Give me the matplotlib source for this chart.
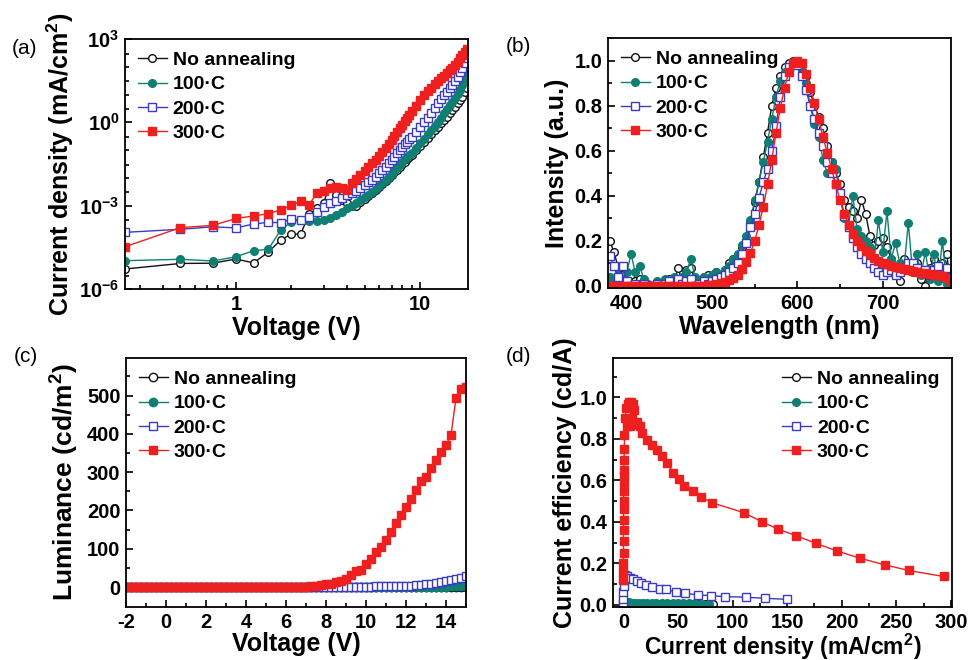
import numpy as np
import matplotlib
matplotlib.use("Agg")
import matplotlib.pyplot as plt
from matplotlib.ticker import MultipleLocator, LogLocator, FixedLocator, NullFormatter

plt.rcParams['font.family'] = ['Liberation Sans', 'DejaVu Sans']
plt.rcParams['font.weight'] = 'bold'
plt.rcParams['axes.labelweight'] = 'bold'
plt.rcParams['mathtext.default'] = 'regular'
plt.rcParams['axes.unicode_minus'] = False

LABELS = ['No annealing', '100\u00b7C', '200\u00b7C', '300\u00b7C']
COLORS = ['#111111', '#0e7f72', '#3a3ac4', '#ee1f1f']
MARKERS = ['o', 'o', 's', 's']
FACES = ['white', '#0e7f72', 'white', '#ee1f1f']

# (a) J-V, log10 of current density (mA/cm2)
volt_iv = np.concatenate([np.arange(0.25, 9.01, 0.25), np.arange(9.5, 18.01, 0.5)])
logj_none = [-5.28, -5.08, -5.07, -4.92, -5.06, -4.67, -4.24, -4.02, -4.02, -3.3, -3.1, -2.9,
             -2.2, -2.6, -2.8, -2.92, -3.0, -3.01, -2.88, -2.75, -2.64, -2.54, -2.44, -2.34,
             -2.23, -2.12, -2.01, -1.9, -1.8, -1.7, -1.6, -1.5, -1.41, -1.32, -1.24, -1.16,
             -1.0, -0.85, -0.7, -0.56, -0.42, -0.29, -0.16, -0.04, 0.08, 0.2, 0.32, 0.44,
             0.56, 0.68, 0.8, 0.93, 1.08, 1.25]
logj_100 = [-4.98, -4.93, -4.99, -4.84, -4.62, -4.57, -3.88, -3.58, -3.52, -3.56, -3.55, -3.5,
            -3.43, -3.34, -3.22, -3.1, -3.0, -2.9, -2.8, -2.7, -2.6, -2.5, -2.4, -2.3,
            -2.19, -2.08, -1.96, -1.85, -1.74, -1.63, -1.52, -1.42, -1.33, -1.25, -1.17, -1.1,
            -0.93, -0.76, -0.59, -0.43, -0.28, -0.13, 0.02, 0.17, 0.32, 0.47, 0.61, 0.75,
            0.89, 1.03, 1.18, 1.33, 1.52, 1.75]
logj_200 = [-3.96, -3.85, -3.76, -3.8, -3.66, -3.6, -3.61, -3.48, -3.52, -3.39, -3.24, -3.05,
            -2.92, -2.82, -2.72, -2.63, -2.55, -2.46, -2.36, -2.26, -2.16, -2.06, -1.95, -1.84,
            -1.72, -1.6, -1.48, -1.36, -1.24, -1.12, -1.0, -0.89, -0.79, -0.7, -0.61, -0.53,
            -0.36, -0.18, 0.0, 0.17, 0.35, 0.52, 0.68, 0.83, 0.97, 1.1, 1.23, 1.36,
            1.5, 1.64, 1.8, 1.96, 2.14, 2.32]
logj_300 = [-4.48, -3.79, -3.71, -3.46, -3.37, -3.29, -3.15, -2.99, -2.84, -2.96, -2.55, -2.47,
            -2.36, -2.33, -2.35, -2.42, -2.2, -2.05, -1.9, -1.76, -1.62, -1.48, -1.34, -1.2,
            -1.06, -0.92, -0.78, -0.64, -0.5, -0.36, -0.22, -0.09, 0.04, 0.16, 0.28, 0.4,
            0.6, 0.8, 0.97, 1.12, 1.25, 1.37, 1.48, 1.58, 1.68, 1.78, 1.87, 1.96,
            2.07, 2.18, 2.3, 2.43, 2.55, 2.65]

# (b) EL spectra
wl = np.arange(380, 781, 5)
el_none = [0.2, 0.15, 0.08, 0.05, 0.02, 0.05, 0.02, 0.03, 0.01, 0.0,
           0.0, 0.01, 0.0, 0.02, 0.03, 0.0, 0.08, 0.02, 0.07, 0.08,
           0.03, 0.02, 0.04, 0.05, 0.04, 0.06, 0.05, 0.07, 0.1, 0.12,
           0.13, 0.17, 0.2, 0.28, 0.37, 0.46, 0.57, 0.68, 0.8, 0.88,
           0.93, 0.97, 0.99, 1.0, 0.99, 0.98, 0.93, 0.86, 0.8, 0.75,
           0.7, 0.62, 0.55, 0.5, 0.45, 0.38, 0.35, 0.33, 0.3, 0.38,
           0.32, 0.22, 0.18, 0.2, 0.21, 0.17, 0.12, 0.05, 0.02, 0.12,
           0.09, 0.06, 0.1, 0.03, 0.0, 0.08, 0.12, 0.06, 0.1, 0.14,
           0.0]
el_100 = [0.04, 0.02, 0.05, 0.03, 0.06, 0.14, 0.06, 0.09, 0.03, 0.01,
          0.0, 0.02, 0.0, 0.03, 0.01, 0.04, 0.02, 0.04, 0.06, 0.12,
          0.04, 0.02, 0.04, 0.03, 0.05, 0.06, 0.05, 0.07, 0.09, 0.12,
          0.14, 0.18, 0.22, 0.29, 0.38, 0.46, 0.55, 0.64, 0.74, 0.84,
          0.91, 0.95, 0.97, 0.99, 1.0, 0.96, 0.9, 0.8, 0.72, 0.66,
          0.56, 0.5, 0.55, 0.52, 0.4, 0.3, 0.27, 0.4, 0.25, 0.22,
          0.2, 0.17, 0.12, 0.29, 0.15, 0.33, 0.12, 0.19, 0.1, 0.08,
          0.28, 0.06, 0.14, 0.05, 0.15, 0.03, 0.14, 0.02, 0.2, 0.01,
          0.0]
el_200 = [0.13, 0.09, 0.04, 0.09, 0.02, 0.0, 0.01, 0.0, 0.01, 0.0,
          0.0, 0.01, 0.0, 0.01, 0.02, 0.0, 0.03, 0.01, 0.02, 0.03,
          0.0, 0.01, 0.02, 0.01, 0.02, 0.03, 0.04, 0.05, 0.06, 0.08,
          0.1, 0.14, 0.19, 0.26, 0.32, 0.39, 0.46, 0.52, 0.6, 0.71,
          0.84, 0.93, 0.97, 0.99, 0.98, 0.93, 0.87, 0.8, 0.74, 0.68,
          0.62, 0.55, 0.5, 0.45, 0.41, 0.31, 0.26, 0.21, 0.17, 0.14,
          0.12, 0.1, 0.08, 0.06, 0.05, 0.06, 0.07, 0.05, 0.06, 0.08,
          0.1, 0.1, 0.08, 0.06, 0.07, 0.05, 0.07, 0.09, 0.05, 0.08,
          0.04]
el_300 = [0.0, 0.0, 0.0, 0.0, 0.0, 0.0, 0.0, 0.0, 0.0, 0.0,
          0.0, 0.0, 0.0, 0.0, 0.0, 0.0, 0.0, 0.0, 0.0, 0.0,
          0.0, 0.0, 0.0, 0.003, 0.005, 0.008, 0.012, 0.018, 0.025, 0.035,
          0.05, 0.075, 0.105, 0.145, 0.2, 0.27, 0.35, 0.45, 0.56, 0.68,
          0.79, 0.88, 0.95, 0.99, 1.0, 0.99, 0.94, 0.88, 0.81, 0.74,
          0.66, 0.59, 0.52, 0.45, 0.38, 0.32, 0.27, 0.23, 0.2, 0.175,
          0.155, 0.14, 0.125, 0.112, 0.102, 0.095, 0.089, 0.084, 0.079, 0.074,
          0.07, 0.066, 0.062, 0.058, 0.055, 0.052, 0.049, 0.046, 0.042, 0.035,
          0.02]

# (c) L-V
volt_lv = np.arange(-2, 15.01, 0.25)
lum_none = [0.0] * 68 + [1.0]
lum_100 = [0.0] * 64 + [1, 2, 3, 4, 5]
lum_200 = [0.0] * 44 + [0.5, 0.6, 0.8, 1.0, 1.2, 1.4, 1.6, 1.8, 2.0, 2.3, 2.6, 3.0, 3.4,
                        4.0, 5.0, 6.0, 7.5, 9, 11, 13, 16, 19, 22, 25, 29]
lum_300 = [0.0] * 36 + [1, 2, 3, 5, 7, 9, 13, 17, 22, 31, 42, 44, 61, 74, 92, 105, 124,
                        144, 166, 188, 209, 231, 253, 277, 288, 312, 332, 353, 371, 397,
                        493, 518, 523]

# (d) current efficiency vs current density
cd_none = [0.0, 0.5, 1.5, 3, 5, 8, 12, 16, 21, 26, 32, 38, 44, 50, 56, 62, 68, 75, 82]
ce_none = [0.005, 0.006, 0.006, 0.006, 0.006, 0.006, 0.005, 0.005, 0.005, 0.005,
           0.005, 0.005, 0.004, 0.004, 0.004, 0.004, 0.004, 0.003, 0.003]
cd_100 = [0.0, 0.0, 0.2, 0.5, 1.0, 2.0, 3.5, 5.5, 8.0, 11, 14, 18, 22, 26, 30, 35, 40,
          45, 50, 55, 60, 66, 72, 78]
ce_100 = [0.02, 0.008, 0.01, 0.012, 0.013, 0.013, 0.012, 0.012, 0.011, 0.011, 0.01, 0.01,
          0.01, 0.009, 0.009, 0.009, 0.008, 0.008, 0.008, 0.007, 0.007, 0.007, 0.006, 0.006]
cd_200 = [0.0, 0.0, 0.0, 0.2, 0.5, 1.0, 1.6, 3.6, 6.0, 8.8, 12.1, 15.8, 21, 26.5, 33.2,
          39.3, 48.5, 56.5, 68.4, 80, 92.8, 112.7, 129.8, 149.4]
ce_200 = [0.01, 0.03, 0.06, 0.09, 0.12, 0.14, 0.145, 0.14, 0.129, 0.124, 0.117, 0.107,
          0.096, 0.088, 0.077, 0.076, 0.06, 0.056, 0.048, 0.045, 0.04, 0.037, 0.032, 0.027]
cd_300 = [0.0, 0.0, 0.0, 0.1, 0.1, 0.1, 0.2, 0.2, 0.2, 0.3, 0.3, 0.4, 0.5, 0.6, 0.8, 1.0,
          1.5, 2.5, 4.0, 5.5, 7.0, 8.5, 9.5, 8.0, 5.5, 3.5, 6.0, 9.0, 12.5, 15.0, 17.4,
          22.0, 26.6, 31.2, 35.7, 40.3, 45.6, 51.0, 55.6, 63.9, 71.5, 81.0, 110.0, 126.5,
          141.8, 158.0, 176.3, 195.6, 216.7, 239.6, 261.2, 293.3]
ce_300 = [0.12, 0.16, 0.2, 0.25, 0.31, 0.36, 0.41, 0.46, 0.5, 0.55, 0.59, 0.62, 0.65, 0.7,
          0.75, 0.82, 0.9, 0.95, 0.97, 0.98, 0.98, 0.97, 0.94, 0.9, 0.87, 0.86, 0.86, 0.87,
          0.88, 0.86, 0.83, 0.796, 0.772, 0.748, 0.719, 0.686, 0.635, 0.606, 0.574, 0.55,
          0.519, 0.493, 0.445, 0.402, 0.365, 0.334, 0.297, 0.26, 0.225, 0.193, 0.166, 0.137]

LABEL_SIZE = 18
TICK_SIZE = 14.5


def draw(ax, xs, ys, ms=5.5):
    for i in range(4):
        ax.plot(xs[i], ys[i], color=COLORS[i], lw=1.0, marker=MARKERS[i], ms=ms,
                mfc=FACES[i], mec=COLORS[i], mew=1.0, label=LABELS[i])


def style(ax, loc='upper left'):
    for s in ax.spines.values():
        s.set_linewidth(1.3)
    ax.tick_params(which='both', direction='in', top=False, right=False,
                   labelsize=TICK_SIZE, width=1.2, pad=4)
    ax.tick_params(which='major', length=5)
    ax.tick_params(which='minor', length=3)
    ax.legend(loc=loc, frameon=False, fontsize=14, handlelength=1.5,
              handletextpad=0.3, labelspacing=0.34, borderaxespad=0.25)


fig = plt.figure(figsize=(9.68, 6.6), dpi=100)
ax_a = fig.add_axes([0.1291, 0.5621, 0.3543, 0.3788])
ax_b = fig.add_axes([0.6281, 0.5636, 0.3543, 0.3788])
ax_c = fig.add_axes([0.1302, 0.0803, 0.3512, 0.3773])
ax_d = fig.add_axes([0.6333, 0.0803, 0.3502, 0.3773])

# (a)
j_all = [10 ** np.array(v) for v in (logj_none, logj_100, logj_200, logj_300)]
draw(ax_a, [volt_iv] * 4, j_all, ms=5.5)
ax_a.set_xscale('log')
ax_a.set_yscale('log')
ax_a.set_xlim(0.25, 18.2)
ax_a.set_ylim(1e-6, 1e3)
ax_a.xaxis.set_major_locator(FixedLocator([1, 10]))
ax_a.xaxis.set_major_formatter(matplotlib.ticker.FixedFormatter(['1', '10']))
ax_a.xaxis.set_minor_locator(LogLocator(base=10, subs=np.arange(2, 10), numticks=10))
ax_a.xaxis.set_minor_formatter(NullFormatter())
ax_a.yaxis.set_major_locator(FixedLocator([1e-6, 1e-3, 1e0, 1e3]))
ax_a.yaxis.set_minor_locator(LogLocator(base=10, subs=(1.0, 3.0), numticks=30))
ax_a.yaxis.set_minor_formatter(NullFormatter())
ax_a.set_xlabel('Voltage (V)', fontsize=LABEL_SIZE, labelpad=2)
ax_a.set_ylabel('Current density (mA/cm$^2$)', fontsize=LABEL_SIZE, labelpad=2)
style(ax_a)

# (b)
draw(ax_b, [wl] * 4, [el_none, el_100, el_200, el_300], ms=5.5)
ax_b.set_xlim(378, 780)
ax_b.set_ylim(-0.01, 1.1)
ax_b.xaxis.set_major_locator(MultipleLocator(100))
ax_b.xaxis.set_minor_locator(MultipleLocator(50))
ax_b.yaxis.set_major_locator(MultipleLocator(0.2))
ax_b.yaxis.set_minor_locator(MultipleLocator(0.1))
ax_b.yaxis.set_major_formatter(matplotlib.ticker.FormatStrFormatter('%.1f'))
ax_b.set_xlabel('Wavelength (nm)', fontsize=LABEL_SIZE, labelpad=2)
ax_b.set_ylabel('Intensity (a.u.)', fontsize=LABEL_SIZE, labelpad=4)
style(ax_b)

# (c)
draw(ax_c, [volt_lv] * 4, [lum_none, lum_100, lum_200, lum_300], ms=6)
ax_c.set_xlim(-2, 15)
ax_c.set_ylim(-52, 598)
ax_c.xaxis.set_major_locator(MultipleLocator(2))
ax_c.xaxis.set_minor_locator(MultipleLocator(1))
ax_c.yaxis.set_major_locator(FixedLocator([0, 100, 200, 300, 400, 500]))
ax_c.yaxis.set_minor_locator(FixedLocator([50, 150, 250, 350, 450, 550]))
ax_c.set_xlabel('Voltage (V)', fontsize=LABEL_SIZE, labelpad=0)
ax_c.set_ylabel('Luminance (cd/m$^2$)', fontsize=LABEL_SIZE + 1, labelpad=4)
style(ax_c)

# (d)
draw(ax_d, [cd_none, cd_100, cd_200, cd_300], [ce_none, ce_100, ce_200, ce_300], ms=5.5)
ax_d.set_xlim(-9.5, 301)
ax_d.set_ylim(-0.01, 1.19)
ax_d.xaxis.set_major_locator(MultipleLocator(50))
ax_d.xaxis.set_minor_locator(MultipleLocator(25))
ax_d.yaxis.set_major_locator(FixedLocator([0, 0.2, 0.4, 0.6, 0.8, 1.0]))
ax_d.yaxis.set_minor_locator(FixedLocator([0.1, 0.3, 0.5, 0.7, 0.9, 1.1]))
ax_d.yaxis.set_major_formatter(matplotlib.ticker.FormatStrFormatter('%.1f'))
ax_d.set_xlabel('Current density (mA/cm$^2$)', fontsize=LABEL_SIZE - 1.5, labelpad=0)
ax_d.set_ylabel('Current efficiency (cd/A)', fontsize=LABEL_SIZE, labelpad=2)
style(ax_d, loc='upper right')

for lab, x, y in [('(a)', 12, 54), ('(b)', 506, 52), ('(c)', 14, 362), ('(d)', 506, 362)]:
    fig.text(x / 968, 1 - y / 660, lab, fontsize=15, fontweight='normal')

fig.savefig('out.png', dpi=100)
